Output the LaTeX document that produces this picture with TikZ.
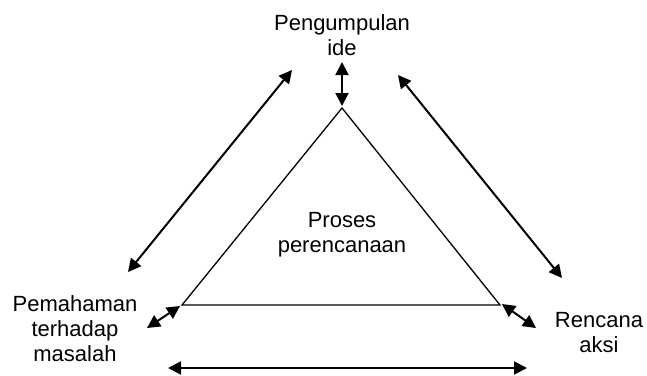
\documentclass[tikz,border=0pt]{standalone}
\usepackage{fontspec}
\setmainfont{Liberation Sans}
\usetikzlibrary{arrows.meta}
\begin{document}
\begin{tikzpicture}[x=1pt,y=-1pt,
  lbl/.style={align=center,inner sep=0pt,anchor=base,font=\fontsize{22}{25}\selectfont},
  dbl/.style={line width=2pt,{Triangle[length=13pt,width=13pt]}-{Triangle[length=13pt,width=13pt]}},
  tri/.style={line width=1.3pt,line join=miter}]
\useasboundingbox (0,0) rectangle (647,375);
% labels (anchor = baseline of the last line)
\node[lbl] (ide) at (342,55) {Pengumpulan\\ide};
\node[lbl] (masalah) at (75,361) {Pemahaman\\terhadap\\masalah};
\node[lbl] (aksi) at (599,352) {Rencana\\aksi};
\node[lbl] (proses) at (342,252) {Proses\\perencanaan};
% triangle
\coordinate (A) at (342,108);
\coordinate (B) at (182,305);
\coordinate (C) at (500,305);
\draw[tri] (A) -- (B) -- (C) -- cycle;
% arrow end points
\coordinate (t1) at (342,62);
\coordinate (t2) at (342,106);
\coordinate (l1) at (128,272);
\coordinate (l2) at (292,70);
\coordinate (r1) at (398,75);
\coordinate (r2) at (562,278);
\coordinate (sl1) at (147,328);
\coordinate (sl2) at (180,306);
\coordinate (sr1) at (502,304);
\coordinate (sr2) at (536,328);
\coordinate (b1) at (168,368);
\coordinate (b2) at (527,368);
\draw[dbl] (t1) -- (t2);
\draw[dbl] (l1) -- (l2);
\draw[dbl] (r1) -- (r2);
\draw[dbl] (sl1) -- (sl2);
\draw[dbl] (sr1) -- (sr2);
\draw[dbl] (b1) -- (b2);
\end{tikzpicture}
\end{document}
